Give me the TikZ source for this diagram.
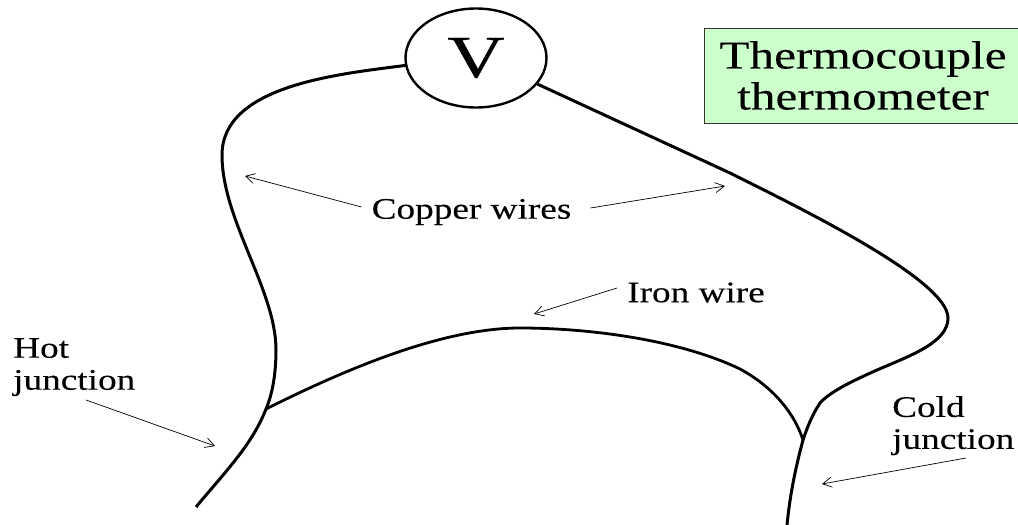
\documentclass[tikz,border=0pt]{standalone}
\usepackage{fontspec}
\setmainfont[FakeStretch=1.25,FakeBold=0.2]{Liberation Serif}
\newfontfamily\meterfont[FakeStretch=1.33,FakeBold=0.25]{Liberation Serif}
\usetikzlibrary{shapes.geometric,arrows.meta}
\tikzset{
  wire/.style={draw=black,line width=3pt},
  pointer/.style={draw=black,line width=0.7pt,-{Straight Barb[length=9pt,width=10pt,line width=0.7pt]}},
  lab/.style={inner sep=0pt,font=\fontsize{29.8}{32}\selectfont,align=center},
  labl/.style={lab,align=left},
  meter/.style={draw=black,line width=2.4pt,ellipse,minimum width=141pt,minimum height=99pt,inner sep=0pt,fill=white},
  titlebox/.style={draw=black!80,line width=0.8pt,fill=titlegreen,minimum width=314pt,minimum height=95pt,inner sep=0pt,align=center,font=\fontsize{39.4}{41}\selectfont}
}
\definecolor{titlegreen}{HTML}{CCFFCC}
\begin{document}
\begin{tikzpicture}[x=1pt,y=-1pt]
\useasboundingbox (0,0) rectangle (1018,525);
\fill[white] (0,0) rectangle (1018,525);
\node[titlebox] (title) at (861,75.5) {\hspace*{4pt}Thermocouple\\\hspace*{4pt}thermometer};
\node[meter,font=\meterfont\fontsize{60}{60}\selectfont] (V) at (476,58) {V};
\coordinate (hot) at (266,409);
\coordinate (cold) at (803,440);
\coordinate (hotend) at (196,507);
\coordinate (coldend) at (787,525);
\draw[wire] (V.186) .. controls (340,74) and (222,85) .. (222,155)
  .. controls (222,220) and (276,290) .. (276,350)
  .. controls (276,375) and (272,395) .. (hot)
  .. controls (252,445) and (225,472) .. (hotend);
\draw[wire] (V.-23) -- (730,173) .. controls (800,208) and (948,280) .. (948,318)
  .. controls (948,342) and (912,355) .. (877,370)
  .. controls (850,382) and (830,392) .. (820,403)
  .. controls (812,415) and (807,428) .. (cold)
  .. controls (795,470) and (790,495) .. (coldend);
\draw[wire,line width=2.8pt] (hot) .. controls (340,372) and (440,328) .. (520,328)
  .. controls (590,328) and (680,340) .. (740,369)
  .. controls (775,388) and (795,415) .. (cold);
\node[lab] (copper) at (471.5,212) {Copper wires};
\node[lab] (iron) at (696,292.5) {Iron wire};
\node[labl,anchor=north west] (hotl) at (13,338) {Hot\\junction};
\node[labl,anchor=north west] (coldl) at (892,396) {Cold\\junction};
\coordinate (a1) at (245,176);
\coordinate (a2) at (725,186);
\coordinate (a3) at (534,314);
\coordinate (a4) at (215,446);
\coordinate (a5) at (822,484);
\draw[pointer] ([xshift=-10pt,yshift=5pt]copper.west) -- (a1);
\draw[pointer] ([xshift=19pt,yshift=4pt]copper.east) -- (a2);
\draw[pointer] ([xshift=-10pt,yshift=4.5pt]iron.west) -- (a3);
\draw[pointer] (86,400) -- (a4);
\draw[pointer] (966,458) -- (a5);
\end{tikzpicture}
\end{document}
